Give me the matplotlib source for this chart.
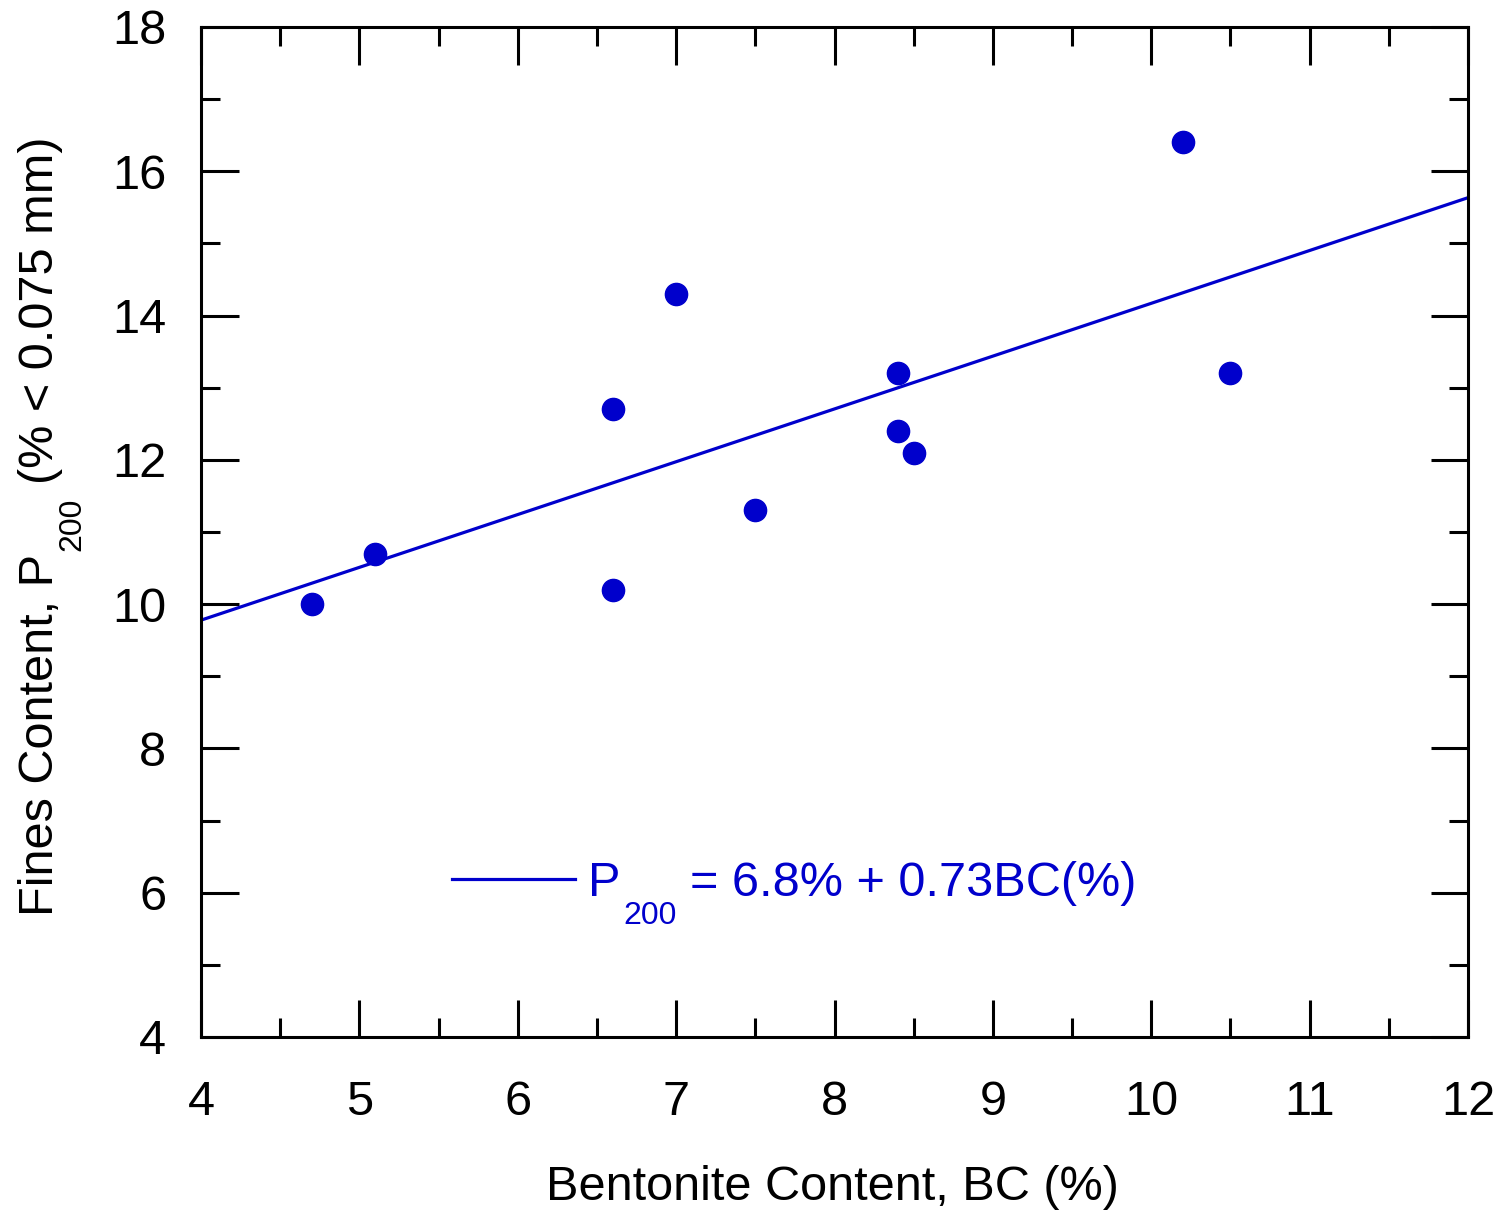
import matplotlib
matplotlib.use("Agg")
import matplotlib.pyplot as plt
import numpy as np
from matplotlib.ticker import MultipleLocator

plt.rcParams['font.family'] = ['Liberation Sans', 'DejaVu Sans']

# measured points
bentonite = [4.7, 5.1, 6.6, 6.6, 7.0, 7.5, 8.4, 8.4, 8.5, 10.2, 10.5]
fines = [10.0, 10.7, 12.7, 10.2, 14.3, 11.3, 13.2, 12.4, 12.1, 16.4, 13.2]

# linear fit P200 = a + b*BC
fit_intercept = 6.85
fit_slope = 0.732
fit_range = [4, 12]

blue = '#0000cc'
fs = 35
fs_sub = 23

fig = plt.figure(figsize=(15.04, 12.10), dpi=100)
ax = fig.add_axes([201 / 1504, 1 - 1037 / 1210, 1267 / 1504, 1010 / 1210])

xf = np.array(fit_range, dtype=float)
ax.plot(xf, fit_intercept + fit_slope * xf, color=blue, lw=2.3, label='P')
ax.plot(bentonite, fines, 'o', color=blue, ms=16, mec=blue)

ax.set_xlim(4, 12)
ax.set_ylim(4, 18)
ax.xaxis.set_major_locator(MultipleLocator(1))
ax.xaxis.set_minor_locator(MultipleLocator(0.5))
ax.yaxis.set_major_locator(MultipleLocator(2))
ax.yaxis.set_minor_locator(MultipleLocator(1))

for s in ax.spines.values():
    s.set_linewidth(2.2)
ax.tick_params(which='both', direction='in', top=True, right=True, width=2.2, labelsize=fs)
ax.tick_params(which='major', length=27)
ax.tick_params(which='minor', length=14)
ax.tick_params(axis='x', pad=31)
ax.tick_params(axis='y', pad=25)

# x label
fig.text(832 / 1504, 1 - 1200 / 1210, 'Bentonite Content, BC (%)', fontsize=fs,
         ha='center', va='baseline')

# y label built from pieces so the subscript sits low like the original
ylab = fig.text(53 / 1504, 1 - 916 / 1210, 'Fines Content, P', fontsize=fs,
                rotation=90, rotation_mode='anchor', ha='left', va='baseline')
ysub = ax.annotate('200', xy=(1, 1), xycoords=ylab, xytext=(-4.3, 2),
                   textcoords='offset points', rotation=90, ha='left', va='bottom',
                   fontsize=fs_sub, annotation_clip=False, clip_on=False)
ax.annotate('(% < 0.075 mm)', xy=(1, 1), xycoords=(ylab, ysub), xytext=(0, 10),
            textcoords='offset points', rotation=90, ha='right', va='bottom',
            fontsize=fs, annotation_clip=False, clip_on=False)

# legend: line sample + "P", then subscript and equation
leg = ax.legend(loc='center left', bbox_to_anchor=(0.198, 0.152), frameon=False,
                fontsize=fs, handlelength=2.53, handletextpad=0.27,
                borderpad=0, borderaxespad=0)
ptxt = leg.get_texts()[0]
ptxt.set_color(blue)
lsub = ax.annotate('200', xy=(1, 0), xycoords=ptxt, xytext=(2, 3.6),
                   textcoords='offset points', ha='left', va='top',
                   fontsize=fs_sub, color=blue, zorder=6,
                   annotation_clip=False, clip_on=False)
ax.annotate('= 6.8% + 0.73BC(%)', xy=(1, 0), xycoords=(lsub, ptxt), xytext=(10, 0),
            textcoords='offset points', ha='left', va='bottom',
            fontsize=fs, color=blue, zorder=7, annotation_clip=False, clip_on=False)

fig.savefig('out.png', dpi=100)
